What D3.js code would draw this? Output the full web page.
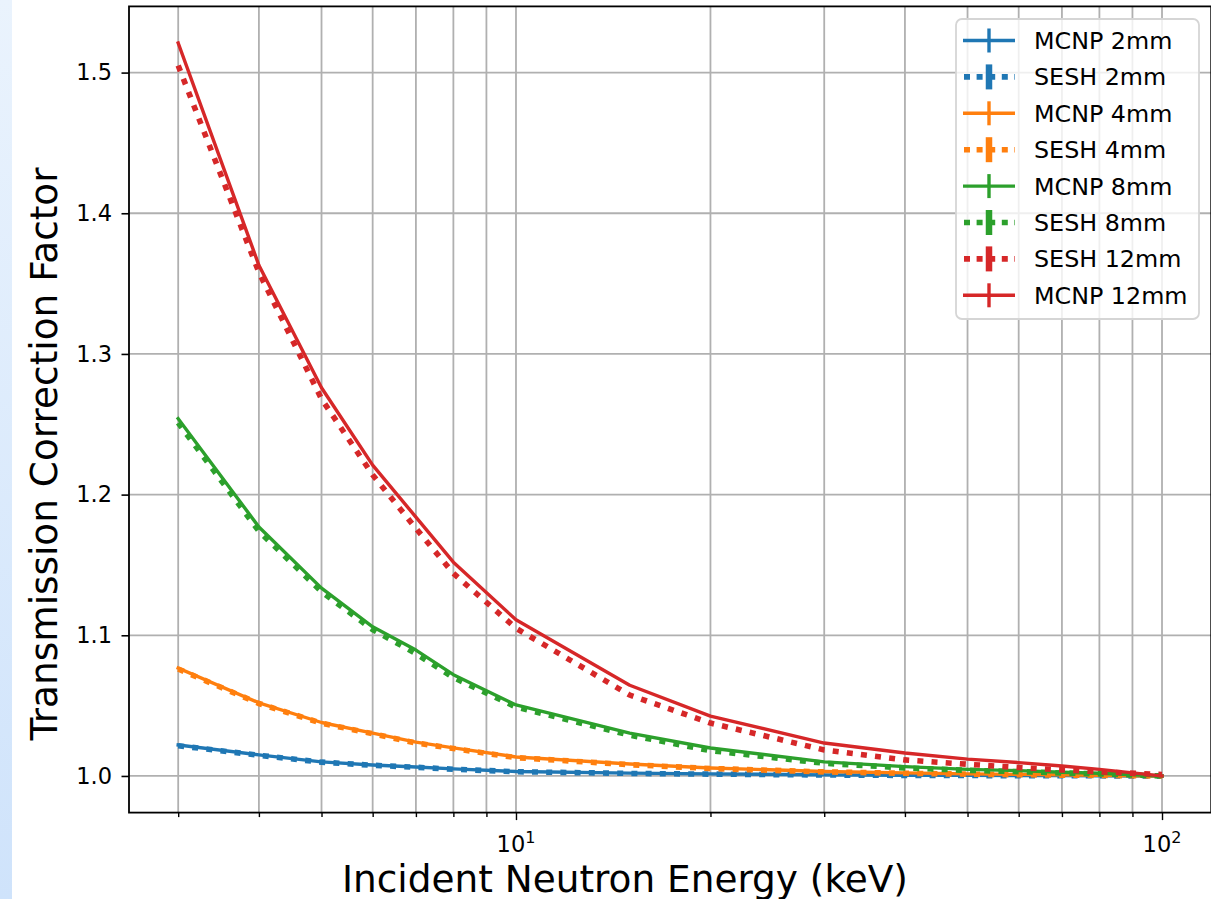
<!DOCTYPE html>
<html>
<head>
<meta charset="utf-8">
<script src="https://cdn.jsdelivr.net/npm/d3@7"></script>
<style>
  html, body { margin: 0; padding: 0; background: #fff; }
  svg { display: block; font-family: "DejaVu Sans", sans-serif; }
</style>
</head>
<body>
<svg id="chart" width="1211" height="899"></svg>
<script>
// incident energies (keV)
const energies = [3, 4, 5, 6, 7, 8, 10, 15, 20, 30, 40, 50, 60, 70, 80, 100];

const mcnp2 = [1.022, 1.015, 1.010, 1.0078, 1.0064, 1.005, 1.0032, 1.002, 1.0015, 1.0008, 1.0005, 1.0004, 1.0003, 1.0002, 1.0001, 1.0];
const sesh2 = [1.0215, 1.0147, 1.0098, 1.0076, 1.0062, 1.0048, 1.003, 1.0018, 1.0013, 1.0007, 1.0004, 1.0003, 1.0002, 1.0001, 1.0001, 1.0];
const mcnp4 = [1.0767, 1.052, 1.038, 1.0305, 1.024, 1.020, 1.0135, 1.0085, 1.0057, 1.0032, 1.0022, 1.0015, 1.0011, 1.0008, 1.0005, 1.0];
const sesh4 = [1.076, 1.0515, 1.0375, 1.030, 1.0235, 1.0195, 1.013, 1.008, 1.0053, 1.0029, 1.0019, 1.0013, 1.0009, 1.0006, 1.0004, 1.0];
const mcnp8 = [1.254, 1.177, 1.1335, 1.106, 1.0895, 1.072, 1.0505, 1.0305, 1.0199, 1.0100, 1.0066, 1.0047, 1.0038, 1.0026, 1.0019, 1.0];
const sesh8 = [1.251, 1.174, 1.131, 1.104, 1.087, 1.070, 1.049, 1.029, 1.018, 1.0090, 1.0057, 1.0040, 1.0031, 1.0021, 1.0015, 1.0];
const sesh12 = [1.505, 1.358, 1.268, 1.214, 1.176, 1.144, 1.105, 1.0575, 1.0376, 1.0185, 1.0114, 1.0083, 1.006, 1.0043, 1.003, 1.001];
const mcnp12 = [1.521, 1.363, 1.276, 1.221, 1.184, 1.152, 1.111, 1.0645, 1.0425, 1.0234, 1.0163, 1.012, 1.0095, 1.0071, 1.0047, 1.0];

const yTicks = [1.0, 1.1, 1.2, 1.3, 1.4, 1.5];
const xMajor = [10, 100];

const series = [
    { label: 'MCNP 2mm', values: mcnp2, color: '#1f77b4', dotted: false },
    { label: 'SESH 2mm', values: sesh2, color: '#1f77b4', dotted: true },
    { label: 'MCNP 4mm', values: mcnp4, color: '#ff7f0e', dotted: false },
    { label: 'SESH 4mm', values: sesh4, color: '#ff7f0e', dotted: true },
    { label: 'MCNP 8mm', values: mcnp8, color: '#2ca02c', dotted: false },
    { label: 'SESH 8mm', values: sesh8, color: '#2ca02c', dotted: true },
    { label: 'SESH 12mm', values: sesh12, color: '#d62728', dotted: true },
    { label: 'MCNP 12mm', values: mcnp12, color: '#d62728', dotted: false }
];

const svg = d3.select('#chart');
const plotLeft = 129, plotRight = 1211.2, plotTop = 6.4, plotBottom = 812.6;

// light blue strip at the left edge of the screenshot
const grad = svg.append('defs').append('linearGradient')
    .attr('id', 'strip').attr('x1', 0).attr('y1', 0).attr('x2', 0).attr('y2', 1);
grad.append('stop').attr('offset', '0%').attr('stop-color', '#eaf3fd');
grad.append('stop').attr('offset', '100%').attr('stop-color', '#cfe3fb');
svg.append('rect').attr('x', 0).attr('y', 0).attr('width', 12).attr('height', 899)
    .attr('fill', 'url(#strip)');

// matplotlib-like 5% margins
const lx0 = Math.log10(d3.min(energies)), lx1 = Math.log10(d3.max(energies));
const allY = series.flatMap(s => s.values);
const y0 = d3.min(allY), y1 = d3.max(allY);
const x = d3.scaleLog()
    .domain([Math.pow(10, lx0 - 0.05 * (lx1 - lx0)), Math.pow(10, lx1 + 0.05 * (lx1 - lx0))])
    .range([plotLeft, plotRight]);
const y = d3.scaleLinear()
    .domain([y0 - 0.05 * (y1 - y0), y1 + 0.05 * (y1 - y0)])
    .range([plotBottom, plotTop]);

// grid (major + minor on x)
const grid = svg.append('g');
grid.selectAll('.vg').data(x.ticks()).enter().append('line')
    .attr('x1', d => x(d)).attr('x2', d => x(d))
    .attr('y1', plotTop).attr('y2', plotBottom)
    .attr('stroke', '#b0b0b0').attr('stroke-width', 1.8);
grid.selectAll('.hg').data(yTicks).enter().append('line')
    .attr('x1', plotLeft).attr('x2', plotRight)
    .attr('y1', d => y(d)).attr('y2', d => y(d))
    .attr('stroke', '#b0b0b0').attr('stroke-width', 1.8);

// curves
const line = d3.line()
    .x((d, i) => x(energies[i]))
    .y(d => y(d));

series.forEach(s => {
    const p = svg.append('path')
        .datum(s.values)
        .attr('d', line)
        .attr('fill', 'none')
        .attr('stroke', s.color);
    if (s.dotted) {
        p.attr('stroke-width', 5.6).attr('stroke-dasharray', '6,8.2');
    } else {
        p.attr('stroke-width', 3.4).attr('stroke-linejoin', 'round').attr('stroke-linecap', 'square');
    }
});

// axes
const xAxis = svg.append('g').attr('transform', `translate(0,${plotBottom})`)
    .call(d3.axisBottom(x).tickValues(x.ticks()).tickSize(4).tickFormat(''));
xAxis.selectAll('.tick line')
    .attr('stroke-width', 1.4)
    .attr('y2', d => xMajor.includes(d) ? 7.5 : 4.5);
xAxis.select('.domain').remove();

xMajor.forEach(v => {
    const t = svg.append('text')
        .attr('x', x(v)).attr('y', 852)
        .attr('text-anchor', 'middle')
        .attr('font-size', 22.5)
        .attr('fill', '#000');
    t.append('tspan').text('10');
    t.append('tspan').attr('dy', -9).attr('font-size', 16).text(String(Math.round(Math.log10(v))));
});

const yAxis = svg.append('g').attr('transform', `translate(${plotLeft},0)`)
    .call(d3.axisLeft(y).tickValues(yTicks).tickSize(7.5).tickPadding(9.5).tickFormat(d3.format('.1f')));
yAxis.selectAll('.tick line').attr('stroke-width', 1.6);
yAxis.selectAll('.tick text')
    .attr('font-size', 22.5)
    .attr('font-family', '"DejaVu Sans", sans-serif')
    .attr('fill', '#000');
yAxis.select('.domain').remove();

// spines
svg.append('rect')
    .attr('x', plotLeft).attr('y', plotTop)
    .attr('width', plotRight - plotLeft).attr('height', plotBottom - plotTop)
    .attr('fill', 'none').attr('stroke', '#000').attr('stroke-width', 1.8);

// axis labels
svg.append('text')
    .attr('x', 625).attr('y', 892)
    .attr('text-anchor', 'middle')
    .attr('font-size', 37.4)
    .text('Incident Neutron Energy (keV)');

svg.append('text')
    .attr('transform', 'translate(57,454) rotate(-90)')
    .attr('text-anchor', 'middle')
    .attr('font-size', 37.4)
    .text('Transmission Correction Factor');

// legend
const legend = svg.append('g');
legend.append('rect')
    .attr('x', 956).attr('y', 19).attr('width', 243).attr('height', 300).attr('rx', 6)
    .attr('fill', 'rgba(255,255,255,0.8)')
    .attr('stroke', '#d5d5d5').attr('stroke-width', 1.8);

series.forEach((s, i) => {
    const cy = 40.5 + i * 36.4;
    const g = legend.append('g');
    if (s.dotted) {
        g.append('line').attr('x1', 964).attr('x2', 1015).attr('y1', cy).attr('y2', cy)
            .attr('stroke', s.color).attr('stroke-width', 5.6).attr('stroke-dasharray', '6,6.6');
        g.append('line').attr('x1', 989).attr('x2', 989).attr('y1', cy - 12.5).attr('y2', cy + 12.5)
            .attr('stroke', s.color).attr('stroke-width', 6.5);
    } else {
        g.append('line').attr('x1', 963).attr('x2', 1015).attr('y1', cy).attr('y2', cy)
            .attr('stroke', s.color).attr('stroke-width', 3.4);
        g.append('line').attr('x1', 989).attr('x2', 989).attr('y1', cy - 12).attr('y2', cy + 12)
            .attr('stroke', s.color).attr('stroke-width', 3.4);
    }
    g.append('text')
        .attr('x', 1034).attr('y', cy)
        .attr('dy', '0.36em')
        .attr('font-size', 23.8)
        .text(s.label);
});
</script>
</body>
</html>
